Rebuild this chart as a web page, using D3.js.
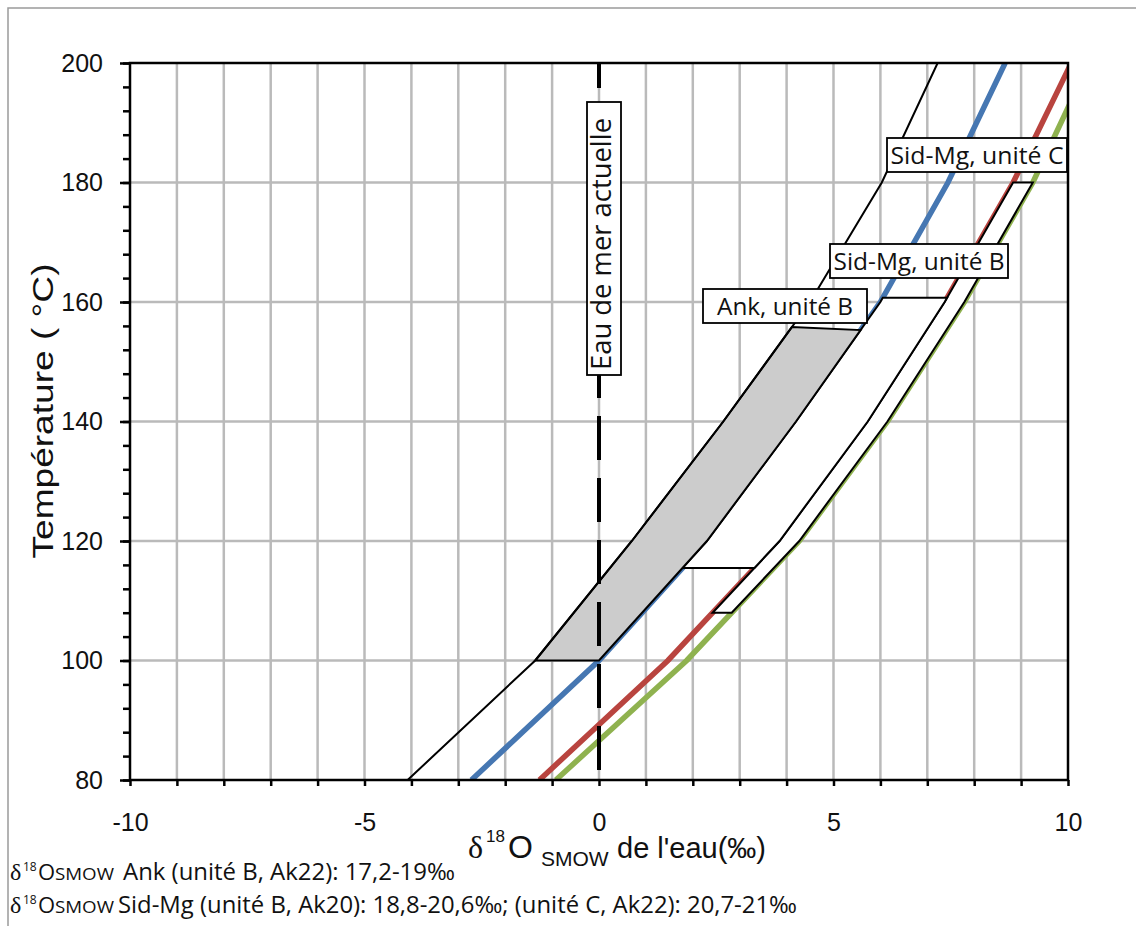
<!DOCTYPE html>
<html>
<head>
<meta charset="utf-8">
<script src="https://cdn.jsdelivr.net/npm/d3@7"></script>
<style>
  body { margin: 0; background: #fff; }
  svg { display: block; }
</style>
</head>
<body>
<svg width="1136" height="926"></svg>
<script>
// temperatures (°C) at which the curves were read
const temps = [80, 100, 120, 140, 160, 180, 200];
// d18O water (permil) of each curve at those temperatures
const blackVals = [-4.08, -1.36, 0.7, 2.65, 4.5, 6.03, 7.22];
const blueVals  = [-2.72, 0, 2.3, 4.2, 6.0, 7.44, 8.66];
const redVals   = [-1.27, 1.47, 3.85, 5.73, 7.37, 8.83, 10.07];
const greenVals = [-0.92, 1.87, 4.27, 6.15, 7.79, 9.25, 10.45];

// temperature limits of the shaded fields [bottom, top-left, top-right]
const ankRange   = [100, 155.8, 155.3];
const sidBRange  = [115.5, 160.7, 160.7];
const sidCRange  = [108, 180, 180];

const xTicks = d3.range(-10, 11, 1);
const xLabels = [-10, -5, 0, 5, 10];
const yTicks = [80, 100, 120, 140, 160, 180, 200];
const yMinor = d3.range(80, 201, 4);

const svg = d3.select('svg');
const x = d3.scaleLinear().domain([-10, 10]).range([130, 1068]);
const y = d3.scaleLinear().domain([80, 200]).range([780, 63]);

// outer frame (only top / left edges are visible)
svg.append('rect').attr('x', 8).attr('y', 8).attr('width', 1200).attr('height', 1000)
  .attr('fill', 'none').attr('stroke', '#9a9a9a').attr('stroke-width', 1.5);

svg.append('clipPath').attr('id', 'plot')
  .append('rect').attr('x', 130).attr('y', 63).attr('width', 938).attr('height', 717);

// grid
const grid = svg.append('g').attr('stroke', '#bababa').attr('stroke-width', 2.5);
grid.selectAll('.vx').data(xTicks.slice(1, -1)).enter().append('line')
  .attr('x1', d => x(d)).attr('x2', d => x(d)).attr('y1', y(80)).attr('y2', y(200));
grid.selectAll('.hy').data(yTicks.slice(1, -1)).enter().append('line')
  .attr('y1', d => y(d)).attr('y2', d => y(d)).attr('x1', x(-10)).attr('x2', x(10));

const plot = svg.append('g').attr('clip-path', 'url(#plot)');

const curve = vals => d3.line().x((d, i) => x(vals[i])).y(d => y(d))(temps);

// fractionation curves
const colored = [[blueVals, '#4677b2'], [redVals, '#b9443f'], [greenVals, '#8fb24f']];
colored.forEach(([vals, col]) => {
  plot.append('path').attr('d', curve(vals)).attr('fill', 'none')
    .attr('stroke', col).attr('stroke-width', 5.5);
});

// fields bounded by two curves
function band(leftVals, rightVals, r) {
  const fl = d3.scaleLinear().domain(temps).range(leftVals);
  const fr = d3.scaleLinear().domain(temps).range(rightVals);
  const inner = (a, b) => temps.filter(t => t > a && t < b);
  const pts = [];
  [r[0], ...inner(r[0], r[1]), r[1]].forEach(t => pts.push([fl(t), t]));
  [r[2], ...inner(r[0], r[2]).reverse(), r[0]].forEach(t => pts.push([fr(t), t]));
  return d3.line().x(d => x(d[0])).y(d => y(d[1]))(pts) + 'Z';
}

plot.append('path').attr('d', band(redVals, greenVals, sidCRange))
  .attr('fill', '#fff').attr('stroke', '#000').attr('stroke-width', 2);
plot.append('path').attr('d', band(blueVals, redVals, sidBRange))
  .attr('fill', '#fff').attr('stroke', '#000').attr('stroke-width', 2);
plot.append('path').attr('d', band(blackVals, blueVals, ankRange))
  .attr('fill', '#cccccc').attr('stroke', '#000').attr('stroke-width', 2);

plot.append('path').attr('d', curve(blackVals)).attr('fill', 'none')
  .attr('stroke', '#000').attr('stroke-width', 2);

// present-day seawater
plot.append('line').attr('x1', x(0)).attr('x2', x(0)).attr('y1', y(80)).attr('y2', y(200))
  .attr('stroke', '#000').attr('stroke-width', 4)
  .attr('stroke-dasharray', '44,18').attr('stroke-dashoffset', 52);

// axes
const xAxis = d3.axisBottom(x).tickValues(xTicks).tickSize(6).tickPadding(27)
  .tickFormat(d => xLabels.includes(d) ? d : '');
const gx = svg.append('g').attr('transform', 'translate(0,780)').call(xAxis);
const yAxis = d3.axisLeft(y).tickValues(yTicks).tickSize(10).tickPadding(17);
const gy = svg.append('g').attr('transform', 'translate(130,0)').call(yAxis);
const gym = svg.append('g').attr('transform', 'translate(130,0)')
  .call(d3.axisLeft(y).tickValues(yMinor).tickSize(7).tickFormat(''));
[gx, gy, gym].forEach(g => {
  g.select('.domain').remove();
  g.selectAll('line').attr('stroke', '#000').attr('stroke-width', 2.5);
  g.selectAll('text').attr('font-family', 'Liberation Sans, Arial, sans-serif')
    .attr('font-size', 25).attr('fill', '#111');
});

svg.append('rect').attr('x', 130).attr('y', 63).attr('width', 938).attr('height', 717)
  .attr('fill', 'none').attr('stroke', '#000').attr('stroke-width', 2.5);

// label boxes
const font = 'Open Sans, Noto Sans, sans-serif';
function box(x0, y0, w, h, txt, len) {
  svg.append('rect').attr('x', x0).attr('y', y0).attr('width', w).attr('height', h)
    .attr('fill', '#fff').attr('stroke', '#000').attr('stroke-width', 1.8);
  svg.append('text').attr('x', x0 + w / 2).attr('y', y0 + h / 2 + 8.5)
    .attr('text-anchor', 'middle').attr('font-family', font).attr('font-size', 24)
    .attr('textLength', len).attr('lengthAdjust', 'spacingAndGlyphs')
    .attr('fill', '#111').text(txt);
}
box(703, 289, 164, 34, 'Ank, unité B', 136);
box(830, 244, 178, 34, 'Sid-Mg, unité B', 171);
box(887, 138, 180, 34, 'Sid-Mg, unité C', 173);

svg.append('rect').attr('x', 587).attr('y', 102).attr('width', 34).attr('height', 273)
  .attr('fill', '#fff').attr('stroke', '#000').attr('stroke-width', 1.8);
svg.append('text').attr('transform', 'translate(611,244) rotate(-90)')
  .attr('text-anchor', 'middle').attr('font-family', font).attr('font-size', 27)
  .attr('textLength', 252).attr('lengthAdjust', 'spacingAndGlyphs')
  .attr('fill', '#111').text('Eau de mer actuelle');

// axis titles
svg.append('text').attr('transform', 'translate(53,411) rotate(-90)')
  .attr('text-anchor', 'middle').attr('font-family', 'Liberation Sans, Arial, sans-serif')
  .attr('font-size', 29).attr('textLength', 295).attr('lengthAdjust', 'spacingAndGlyphs')
  .attr('fill', '#111').text('Température ( °C)');

const sans = 'Liberation Sans, Arial, sans-serif';
const serif = 'Liberation Serif, DejaVu Serif, serif';
const piece = (px, py, fam, size, txt) => svg.append('text').attr('x', px).attr('y', py)
  .attr('font-family', fam).attr('font-size', size).attr('fill', '#111').text(txt);

piece(468, 858, serif, 32, 'δ');
piece(486, 842, sans, 17, '18');
piece(508, 858, sans, 32, 'O');
piece(541, 866, sans, 21, 'SMOW');
piece(617, 858, sans, 29, "de l'eau(‰)");

// notes under the chart
const notes = [
  [880, 'Ank (unité B, Ak22): 17,2-19‰', 123, 332],
  [913, 'Sid-Mg (unité B, Ak20): 18,8-20,6‰; (unité C, Ak22): 20,7-21‰', 118, 679]
];
notes.forEach(([by, rest, rx, len]) => {
  piece(10, by, serif, 24, 'δ');
  piece(23, by - 9, font, 12, '18');
  piece(38, by, font, 22, 'O');
  piece(55, by, font, 16, 'SMOW').attr('textLength', 59).attr('lengthAdjust', 'spacingAndGlyphs');
  piece(rx, by, font, 24, rest).attr('textLength', len).attr('lengthAdjust', 'spacingAndGlyphs');
});
</script>
</body>
</html>
